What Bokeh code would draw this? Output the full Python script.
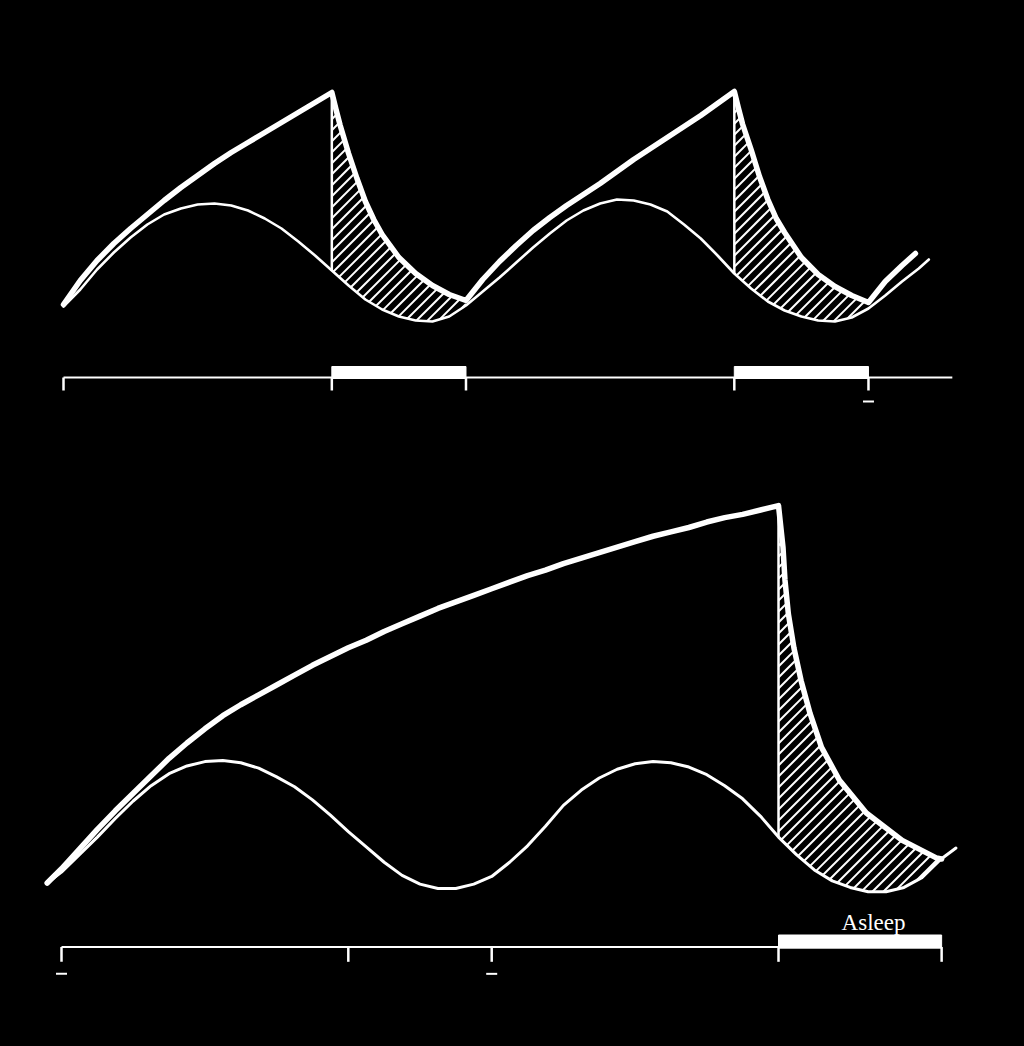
import numpy as np
from bokeh.plotting import figure
from bokeh.layouts import column
from bokeh.models import Range1d
from bokeh.embed import file_html
from bokeh.resources import INLINE
from bokeh.core.properties import value

# ---------------- DATA ----------------
# Top panel: regular sleep/wake (hours from wake-up), levels in arbitrary units
top_s_hours = [0, 1, 2, 3, 4, 5, 6, 7, 8, 9, 10, 11, 12, 13, 14, 15, 16,
               16.25, 16.5, 17, 17.5, 18, 18.5, 19, 20, 21, 22, 23, 24,
               25, 26, 27, 28, 29, 30, 31, 32, 33, 34, 35, 36, 37, 38, 39, 40,
               40.25, 40.5, 41, 41.5, 42, 42.5, 43, 44, 45, 46, 47, 48,
               49, 50, 50.8]
top_s = [0.17, 0.41, 0.61, 0.78, 0.93, 1.07, 1.21, 1.34, 1.46, 1.58, 1.69, 1.79, 1.89, 1.99, 2.09, 2.19, 2.29,
         2.12, 1.96, 1.68, 1.43, 1.20, 1.02, 0.87, 0.64, 0.48, 0.36, 0.27, 0.21,
         0.42, 0.60, 0.76, 0.91, 1.04, 1.16, 1.27, 1.38, 1.50, 1.62, 1.73, 1.84, 1.95, 2.06, 2.18, 2.30,
         2.13, 1.97, 1.72, 1.45, 1.22, 1.03, 0.89, 0.64, 0.47, 0.35, 0.26, 0.19,
         0.40, 0.56, 0.68]
top_c_hours = [0, 1, 2, 3, 4, 5, 6, 7, 8, 9, 10, 11, 12, 13, 14, 15, 16, 17, 18, 19, 20, 21, 22, 23, 24,
               25, 26, 27, 28, 29, 30, 31, 32, 33, 34, 35, 36, 37, 38, 39, 40, 41, 42, 43, 44, 45, 46, 47, 48,
               49, 50, 51, 51.6]
top_c = [0.15, 0.32, 0.52, 0.69, 0.84, 0.97, 1.07, 1.13, 1.17, 1.18, 1.16, 1.11, 1.03, 0.93, 0.80, 0.66, 0.51,
         0.36, 0.22, 0.12, 0.05, 0.01, 0.00, 0.05, 0.16,
         0.30, 0.44, 0.59, 0.74, 0.88, 1.01, 1.11, 1.18, 1.22, 1.21, 1.17, 1.10, 0.97, 0.83, 0.66, 0.48,
         0.33, 0.20, 0.11, 0.05, 0.01, 0.00, 0.04, 0.13,
         0.26, 0.40, 0.53, 0.62]
top_ticks = [0, 16, 24, 40, 48]
top_sleep_start = [16, 40]
top_sleep_end = [24, 48]
top_axis_end = 53
top_dash_ticks = [48]

# Bottom panel: sleep deprivation (awake 40 h, then recovery sleep)
bot_s_hours = [-0.8, 0, 1, 2, 3, 4, 5, 6, 7, 8, 9, 10, 11, 12, 13, 14, 15, 16, 17, 18, 19, 20,
               21, 22, 23, 24, 25, 26, 27, 28, 29, 30, 31, 32, 33, 34, 35, 36, 37, 38, 39, 40,
               40.25, 40.36, 40.55, 40.86, 41.26, 41.76, 42.4, 43.4, 44.9, 46.9, 48.8, 49.1]
bot_s = [0.05, 0.18, 0.36, 0.54, 0.71, 0.87, 1.03, 1.19, 1.33, 1.46, 1.58, 1.68, 1.77, 1.86, 1.95, 2.04, 2.12,
         2.20, 2.27, 2.35, 2.42, 2.49, 2.56, 2.62, 2.68, 2.74, 2.80, 2.86, 2.91, 2.97, 3.02, 3.07, 3.12,
         3.17, 3.22, 3.26, 3.30, 3.35, 3.39, 3.42, 3.46, 3.50,
         3.12, 2.82, 2.51, 2.20, 1.90, 1.60, 1.29, 0.99, 0.69, 0.44, 0.28, 0.27]
bot_c_hours = [-0.8, 0, 1, 2, 3, 4, 5, 6, 7, 8, 9, 10, 11, 12, 13, 14, 15, 16, 17, 18, 19, 20,
               21, 22, 23, 24, 25, 26, 27, 28, 29, 30, 31, 32, 33, 34, 35, 36, 37, 38, 39, 40,
               41, 42, 43, 44, 45, 46, 47, 48, 49, 49.9]
bot_c = [0.05, 0.15, 0.31, 0.47, 0.64, 0.80, 0.94, 1.05, 1.12, 1.16, 1.17, 1.15, 1.10, 1.02, 0.93, 0.81, 0.67,
         0.52, 0.38, 0.24, 0.12, 0.04, 0.00, 0.00, 0.04, 0.11, 0.24, 0.39, 0.57, 0.76, 0.90, 1.01, 1.09,
         1.14, 1.16, 1.15, 1.11, 1.04, 0.94, 0.82, 0.66, 0.47,
         0.31, 0.17, 0.07, 0.01, -0.03, -0.03, 0.01, 0.10, 0.26, 0.37]
bot_ticks = [0, 16, 24, 40, 49.1]
bot_sleep_start = [40]
bot_sleep_end = [49.1]
bot_axis_end = 49.1
bot_dash_ticks = [0, 24]
sleep_label = "Asleep"

# ---------------- HELPERS ----------------
WHITE = "white"
HATCH_STEP_PX = 11.0


def value_at(hours, vals, h):
    return vals[hours.index(h)]


def hatch_segments(s_h, s_v, c_h, c_v, a, b, kx, ky, step):
    """45-degree hatch lines (in screen space) clipped to the band C <= y <= S on [a, b]."""
    hs = np.linspace(a, b, 1601)
    S = np.interp(hs, s_h, s_v) * ky
    C = np.interp(hs, c_h, c_v) * ky
    X = hs * kx
    kmin = np.floor((C - X).min() / step) * step
    kmax = (S - X).max()
    x0, y0, x1, y1 = [], [], [], []
    k = kmin
    while k <= kmax:
        Y = X + k
        idx = np.flatnonzero((Y >= C) & (Y <= S))
        if idx.size:
            br = np.flatnonzero(np.diff(idx) > 1)
            starts = np.r_[idx[0], idx[br + 1]]
            ends = np.r_[idx[br], idx[-1]]
            for s0, e0 in zip(starts, ends):
                if e0 > s0:
                    x0.append(hs[s0]); y0.append(Y[s0] / ky)
                    x1.append(hs[e0]); y1.append(Y[e0] / ky)
        k += step
    return x0, y0, x1, y1


def make_panel(width, height, xr, yr, s_h, s_v, c_h, c_v, ticks, sl_start, sl_end,
               axis_end, dash_ticks, axis_y, bar_h, tick_len, s_w, c_w):
    p = figure(width=width, height=height, x_range=Range1d(*xr), y_range=Range1d(*yr),
               output_backend="svg", toolbar_location=None,
               x_axis_location=None, y_axis_location=None, min_border=0)
    p.background_fill_color = "black"
    p.border_fill_color = "black"
    p.outline_line_color = None
    p.grid.visible = False
    kx = width / (xr[1] - xr[0])
    ky = height / (yr[1] - yr[0])

    # hatched sleep areas between S and C
    for a, b in zip(sl_start, sl_end):
        x0, y0, x1, y1 = hatch_segments(s_h, s_v, c_h, c_v, a, b, kx, ky, HATCH_STEP_PX)
        p.segment(x0=x0, y0=y0, x1=x1, y1=y1, line_color=WHITE, line_width=2)
        # vertical boundary at sleep onset
        p.segment(x0=[a], y0=[value_at(c_h, c_v, a)], x1=[a], y1=[value_at(s_h, s_v, a)],
                  line_color=WHITE, line_width=2.5)

    # Process C (thin) and Process S (thick)
    p.line(c_h, c_v, line_color=WHITE, line_width=c_w, line_join="round", line_cap="round")
    p.line(s_h, s_v, line_color=WHITE, line_width=s_w, line_join="round", line_cap="round")

    # time line with ticks and sleep bars
    p.segment(x0=[0], y0=[axis_y], x1=[axis_end], y1=[axis_y], line_color=WHITE, line_width=2)
    p.quad(left=sl_start, right=sl_end, bottom=axis_y - 0.01, top=axis_y + bar_h,
           fill_color=WHITE, line_color=WHITE, line_width=1)
    p.segment(x0=ticks, y0=[axis_y] * len(ticks), x1=ticks, y1=[axis_y - tick_len] * len(ticks),
              line_color=WHITE, line_width=2.5)
    p.scatter(x=dash_ticks, y=[axis_y - tick_len - 0.11] * len(dash_ticks), marker="dash",
              size=11, line_color=WHITE, line_width=2)
    return p


top = make_panel(1008, 462, (-3.280, 56.827), (-1.49, 3.13),
                 top_s_hours, top_s, top_c_hours, top_c, top_ticks,
                 top_sleep_start, top_sleep_end, top_axis_end, top_dash_ticks,
                 axis_y=-0.56, bar_h=0.11, tick_len=0.13, s_w=5.5, c_w=2.6)

bot = make_panel(1008, 568, (-2.957, 53.277), (-1.371, 3.821),
                 bot_s_hours, bot_s, bot_c_hours, bot_c, bot_ticks,
                 bot_sleep_start, bot_sleep_end, bot_axis_end, bot_dash_ticks,
                 axis_y=-0.535, bar_h=0.11, tick_len=0.135, s_w=5.5, c_w=3.0)
bot.text(x=[(bot_sleep_start[0] + bot_sleep_end[0]) / 2 + 0.75], y=[-0.31], text=[sleep_label],
         text_color=WHITE, text_font=value("Liberation Serif"), text_font_size="23px",
         text_align="center", text_baseline="alphabetic")

layout = column(top, bot, spacing=0)
layout.styles = {"background-color": "black"}

tmpl = ("{% block postamble %}<style>html, body { background: #000; } "
        "body { padding: 8px !important; }</style>{% endblock %}")
open("out.html", "w").write(file_html(layout, INLINE, template=tmpl))
